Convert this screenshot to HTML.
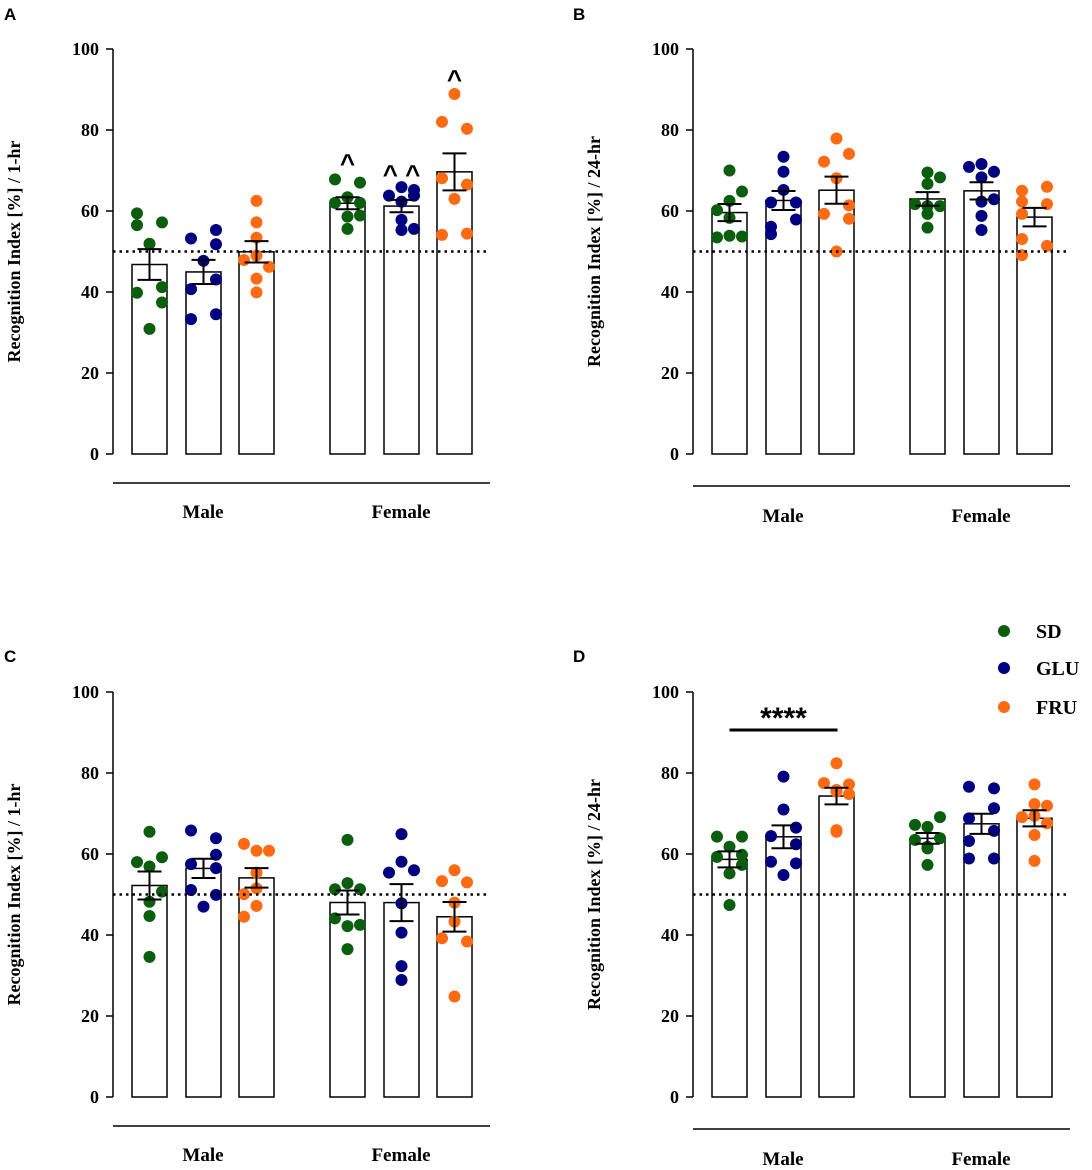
<!DOCTYPE html>
<html><head><meta charset="utf-8"><style>
body{margin:0;background:#fff}
svg{display:block}
text{font-family:"Liberation Serif",serif;font-weight:bold;fill:#000}
text.pl{font-family:"Liberation Sans",sans-serif}
</style></head><body>
<svg id="fig" width="1092" height="1170" viewBox="0 0 1092 1170" xmlns="http://www.w3.org/2000/svg"></svg>
<script>
const groups = ["SD","GLU","FRU"];
const sexes = ["Male","Female"];
const yTicks = [0,20,40,60,80,100];
const colors = ["#0b5e0e","#000080","#ff6a13"];
// values per panel: [Male SD, Male GLU, Male FRU, Female SD, Female GLU, Female FRU]
const valuesA = [
 [59.4,56.5,57.2,51.9,39.8,41.2,37.4,30.9],
 [53.2,55.3,51.8,47.7,43.1,40.7,34.5,33.3],
 [62.5,57.2,53.4,49.0,47.9,46.2,43.3,39.9],
 [67.8,67.0,63.4,62.0,62.0,58.9,58.6,55.6],
 [65.9,65.2,63.8,63.8,62.3,57.8,55.3,55.6],
 [88.9,82.0,80.3,68.1,66.5,63.0,54.1,54.4]];
const valuesB = [
 [70.0,64.8,62.5,60.2,58.3,53.5,53.9,53.7],
 [73.4,69.7,65.2,62.1,62.1,57.9,56.1,54.3],
 [77.9,74.1,72.2,68.1,61.4,58.1,59.3,50.0],
 [69.5,68.3,66.7,61.7,61.2,61.2,59.3,55.9],
 [71.6,70.9,69.7,68.3,62.3,62.9,58.8,55.3],
 [66.0,65.0,62.3,61.7,59.3,53.1,51.4,49.1]];
const valuesC = [
 [65.5,58.0,59.2,56.9,50.7,48.2,44.7,34.6],
 [65.8,63.9,59.8,57.5,56.5,51.1,49.9,47.0],
 [62.5,60.8,60.8,55.4,51.5,50.1,47.2,44.5],
 [63.5,52.8,51.3,51.3,44.1,42.5,42.2,36.5],
 [64.9,58.1,55.4,56.0,47.8,40.6,32.3,28.9],
 [56.0,53.3,53.0,48.0,43.3,39.2,38.4,24.8]];
const valuesD = [
 [64.3,64.3,61.8,59.8,59.3,57.3,55.2,47.4],
 [79.1,71.0,66.5,64.4,62.4,58.1,57.7,54.8],
 [82.4,77.5,77.2,75.8,75.4,74.8,65.9,65.5],
 [69.1,67.2,66.7,63.9,63.5,61.8,61.4,57.3],
 [76.6,76.2,71.3,68.8,65.7,63.2,58.9,58.9],
 [77.2,72.3,71.9,69.4,69.1,67.6,64.7,58.3]];
// jitter slot per dot (-1,0,1)
const jitterA = [[-1,-1,1,0,-1,1,1,0],[-1,1,1,0,1,-1,1,-1],[0,0,0,0,-1,1,0,0],[-1,1,0,-1,1,1,0,0],[0,1,-1,1,0,0,0,1],[0,-1,1,-1,1,0,-1,1]];
const jitterB = [[0,1,0,-1,0,-1,0,1],[0,0,0,-1,1,1,-1,-1],[0,1,-1,0,1,1,-1,0],[0,1,0,-1,0,1,0,0],[0,-1,1,0,0,1,0,0],[1,-1,-1,1,-1,-1,1,-1]];
const jitterC = [[0,-1,1,0,1,0,0,0],[-1,1,1,-1,1,-1,1,0],[-1,0,1,0,0,-1,0,-1],[0,0,-1,1,-1,1,0,0],[0,0,-1,1,0,0,0,0],[0,-1,1,0,0,-1,1,0]];
const jitterD = [[-1,1,0,1,-1,1,0,0],[0,0,1,-1,1,-1,1,0],[0,-1,1,0,0,1,0,0],[1,-1,0,1,-1,0,0,0],[-1,1,1,-1,1,-1,-1,1],[0,0,1,0,-1,1,0,0]];

const NS="http://www.w3.org/2000/svg";
const svg=document.getElementById('fig');
function mk(tag,attrs,parent,txt){const e=document.createElementNS(NS,tag);for(const k in attrs)e.setAttribute(k,attrs[k]);if(txt!==undefined)e.textContent=txt;(parent||svg).appendChild(e);return e;}

const panels=[
 {id:"A",vals:valuesA,jit:jitterA,ax:113,y0:454,y100:49,line:483,lab:518,ylab:"Recognition Index [%] / 1-hr",lx:4,ly:20},
 {id:"B",vals:valuesB,jit:jitterB,ax:693,y0:454,y100:49,line:486,lab:522,ylab:"Recognition Index [%] / 24-hr",lx:573,ly:20},
 {id:"C",vals:valuesC,jit:jitterC,ax:113,y0:1097,y100:692,line:1126,lab:1161,ylab:"Recognition Index [%] / 1-hr",lx:4,ly:662},
 {id:"D",vals:valuesD,jit:jitterD,ax:693,y0:1097,y100:692,line:1129,lab:1165,ylab:"Recognition Index [%] / 24-hr",lx:573,ly:662}];
const barOff=[19,73,126,217,271,324];
const barW=35;

panels.forEach(p=>{
 const g=mk('g',{});
 
 
 const y=v=>p.y0+(p.y100-p.y0)*v/100;
 const t=mk('text',{x:p.lx,y:p.ly,'font-size':17,'class':'pl'},g,p.id);
 
 
 const axis=mk('line',{x1:p.ax,x2:p.ax,y1:y(100),y2:y(0),stroke:'#000','stroke-width':1.5},g);
 
 
 yTicks.forEach(tv=>{
  mk('line',{x1:p.ax-7,x2:p.ax,y1:y(tv),y2:y(tv),stroke:'#000','stroke-width':1.5},g);
  const tl=mk('text',{x:p.ax-14,y:y(tv)+6,'text-anchor':'end','font-size':18},g,tv);
  
  
 });
 const yl=mk('text',{transform:`translate(${p.ax-93},${(y(0)+y(100))/2}) rotate(-90)`,'text-anchor':'middle','font-size':18},g,p.ylab);
 
 
 p.vals.forEach((vals,i)=>{
  const cx=p.ax+barOff[i]+barW/2;
  const n=vals.length, m=vals.reduce((a,b)=>a+b,0)/n;
  const sd=Math.sqrt(vals.reduce((a,b)=>a+(b-m)*(b-m),0)/(n-1)), se=sd/Math.sqrt(n);
  const bar=mk('rect',{x:cx-barW/2,y:y(m),width:barW,height:y(0)-y(m),fill:'#fff',stroke:'#000','stroke-width':1.5},g);
  
  
  vals.forEach((v,k)=>{
   const d=mk('circle',{cx:cx+p.jit[i][k]*12.5,cy:y(v),r:6,fill:colors[i%3]},g);
   
   
  });
  const eb=mk('path',{d:`M${cx},${y(m+se)}V${y(m-se)}M${cx-12},${y(m+se)}H${cx+12}M${cx-12},${y(m-se)}H${cx+12}`,stroke:'#000','stroke-width':2,fill:'none'},g);
  
  
 });
 const dl=mk('line',{x1:p.ax,x2:p.ax+377,y1:y(50),y2:y(50),stroke:'#000','stroke-width':2.5,'stroke-dasharray':'2.5,4'},g);
 
 
 const bl=mk('line',{x1:p.ax,x2:p.ax+377,y1:p.line,y2:p.line,stroke:'#000','stroke-width':1.5},g);
 
 
 sexes.forEach((s,j)=>{
  const lx=p.ax+(barOff[j*3]+barOff[j*3+2]+barW)/2;
  const st=mk('text',{x:lx,y:p.lab,'text-anchor':'middle','font-size':19},g,s);
  
  
 });
 if(p.id==="A"){
  [[3,"^",160],[4,"^ ^",171],[5,"^",76]].forEach(a=>{
   const cx=p.ax+barOff[a[0]]+barW/2;
   const c=mk('text',{x:cx,y:a[2]+12,'text-anchor':'middle','font-size':26,'class':'pl'},g,a[1]);
   
   
  });
 }
 if(p.id==="D"){
  const x1=p.ax+barOff[0]+barW/2, x2=p.ax+barOff[2]+barW/2+1;
  const sl=mk('line',{x1:x1,x2:x2,y1:730,y2:730,stroke:'#000','stroke-width':3},g);
  
  
  const ss=mk('text',{x:(x1+x2)/2,y:728,'text-anchor':'middle','font-size':30,'class':'pl'},g,'****');
  
  
 }
});
groups.forEach((gname,i)=>{
 const ly=[631,668,707][i];
 const lg=mk('g',{});
 
 
 mk('circle',{cx:1004,cy:ly,r:6,fill:colors[i]},lg);
 mk('text',{x:1036,y:ly+7,'font-size':20},lg,gname);
});
</script>
</body></html>
